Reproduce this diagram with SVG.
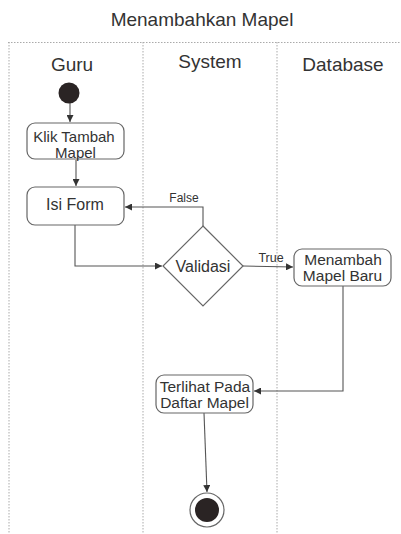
<svg xmlns="http://www.w3.org/2000/svg" width="401" height="534" viewBox="0 0 401 534">
<defs>
<style>
.lane{stroke:#aaa;stroke-width:1;stroke-dasharray:1.5 1.5;fill:none}
.box{fill:#fff;stroke:#666;stroke-width:1.2}
.t{font-family:"Liberation Sans",Arial,sans-serif;fill:#333;text-anchor:middle}
.c{stroke:#555;stroke-width:1.1;fill:none;marker-end:url(#ah)}
</style>
<marker id="ah" viewBox="0 0 10 10" refX="10" refY="5" markerWidth="7" markerHeight="7" orient="auto" markerUnits="userSpaceOnUse">
<path d="M0,0 L10,5 L0,10 z" fill="#333"/>
</marker>
</defs>
<rect width="401" height="534" fill="#fff"/>
<text class="t" x="202" y="26" font-size="19">Menambahkan Mapel</text>
<g id="lanes">
<line class="lane" x1="8" y1="42.5" x2="401" y2="42.5"/>
<line class="lane" x1="9" y1="42" x2="9" y2="534"/>
<line class="lane" x1="143" y1="42" x2="143" y2="534"/>
<line class="lane" x1="277" y1="42" x2="277" y2="534"/>
<text class="t" x="72" y="71" font-size="19">Guru</text>
<text class="t" x="210" y="68" font-size="19">System</text>
<text class="t" x="343" y="71" font-size="19">Database</text>
</g>
<g id="connectors">
<path class="c" d="M70,103 L70,122"/>
<path class="c" d="M76,160 L76,186"/>
<path class="c" d="M75,225 L75,266 L162,266"/>
<path class="c" d="M203,226 L203,207 L125,207"/>
<text class="t" x="184" y="202" font-size="12">False</text>
<path class="c" d="M243,266 L293,267"/>
<text class="t" x="271" y="262" font-size="12.5">True</text>
<path class="c" d="M343,286 L343,391 L254,391"/>
<path class="c" d="M204,413 L207,492"/>
</g>
<g id="start"><circle cx="69" cy="93" r="10.5" fill="#2a2424"/></g>
<g id="klik">
<rect class="box" x="27" y="123" width="97" height="36" rx="8"/>
<text class="t" x="74" y="142" font-size="15">Klik Tambah</text>
<text class="t" x="75.5" y="158" font-size="15">Mapel</text>
</g>
<g id="isiform">
<rect class="box" x="27" y="187" width="97" height="38" rx="8"/>
<text class="t" x="75" y="210" font-size="16">Isi Form</text>
</g>
<g id="validasi">
<polygon class="box" points="203,226 243,266 203,306 163,266"/>
<text class="t" x="203" y="272" font-size="16">Validasi</text>
</g>
<g id="menambah">
<rect class="box" x="294" y="249" width="97" height="37" rx="8"/>
<text class="t" x="343" y="265" font-size="15.5">Menambah</text>
<text class="t" x="342.5" y="281" font-size="15.5">Mapel Baru</text>
</g>
<g id="terlihat">
<rect class="box" x="156" y="375" width="97" height="38" rx="8"/>
<text class="t" x="205" y="392" font-size="15.5">Terlihat Pada</text>
<text class="t" x="204.5" y="408" font-size="15.5">Daftar Mapel</text>
</g>
<g id="end">
<circle cx="207" cy="510" r="17" fill="#fff" stroke="#666" stroke-width="1.2"/>
<circle cx="207" cy="510" r="12" fill="#2a2424"/>
</g>
</svg>
